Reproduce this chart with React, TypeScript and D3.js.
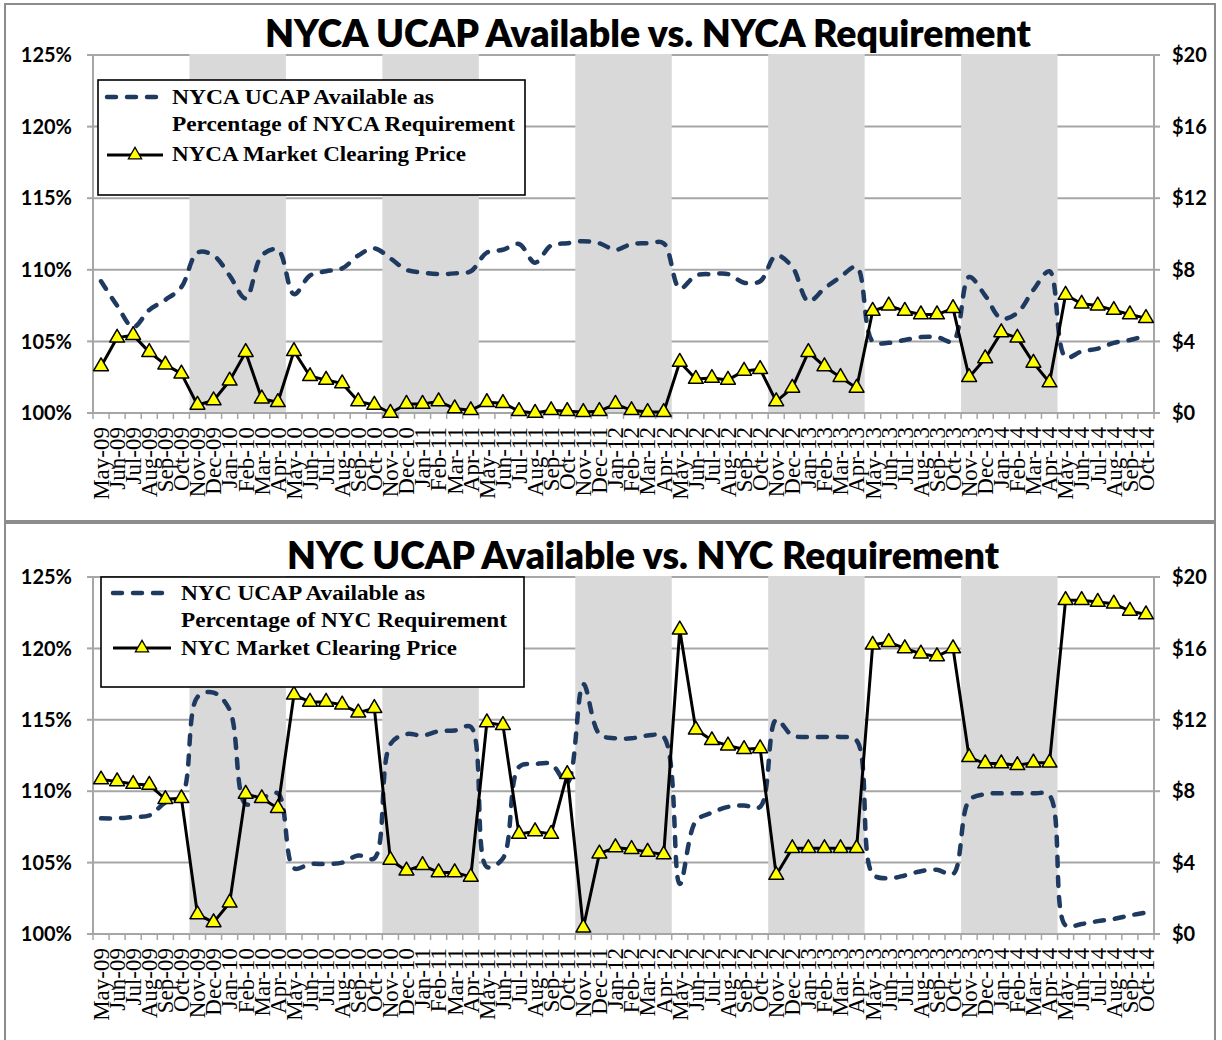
import React from 'react';
import * as d3 from 'd3';

// May-09 .. Oct-14
const months = [
  'May-09', 'Jun-09', 'Jul-09', 'Aug-09', 'Sep-09', 'Oct-09', 'Nov-09', 'Dec-09', 'Jan-10', 'Feb-10', 'Mar-10', 'Apr-10',
  'May-10', 'Jun-10', 'Jul-10', 'Aug-10', 'Sep-10', 'Oct-10', 'Nov-10', 'Dec-10', 'Jan-11', 'Feb-11', 'Mar-11', 'Apr-11',
  'May-11', 'Jun-11', 'Jul-11', 'Aug-11', 'Sep-11', 'Oct-11', 'Nov-11', 'Dec-11', 'Jan-12', 'Feb-12', 'Mar-12', 'Apr-12',
  'May-12', 'Jun-12', 'Jul-12', 'Aug-12', 'Sep-12', 'Oct-12', 'Nov-12', 'Dec-12', 'Jan-13', 'Feb-13', 'Mar-13', 'Apr-13',
  'May-13', 'Jun-13', 'Jul-13', 'Aug-13', 'Sep-13', 'Oct-13', 'Nov-13', 'Dec-13', 'Jan-14', 'Feb-14', 'Mar-14', 'Apr-14',
  'May-14', 'Jun-14', 'Jul-14', 'Aug-14', 'Sep-14', 'Oct-14'
];

const winterMonths = ['Nov', 'Dec', 'Jan', 'Feb', 'Mar', 'Apr'];

const nycaUcap = [
  109.2, 107.5, 106.0, 107.2, 107.9, 108.8, 111.2, 111.0, 109.6, 108.0, 111.0, 111.4,
  108.3, 109.6, 109.9, 110.1, 111.0, 111.5, 110.8, 110.0, 109.8, 109.7, 109.75, 109.9,
  111.2, 111.4, 111.8, 110.5, 111.7, 111.85, 112.0, 111.85, 111.4, 111.8, 111.85, 111.85,
  108.7, 109.6, 109.7, 109.7, 109.1, 109.2, 111.0, 110.2, 107.8, 108.7, 109.5, 110.2,
  105.0, 104.9, 105.1, 105.3, 105.3, 105.0, 109.5, 108.2, 106.6, 107.0, 108.6, 109.9,
  103.9, 104.3, 104.5, 104.9, 105.1, 105.4
];

const nycaPrice = [
  2.6, 4.2, 4.35, 3.4, 2.7, 2.2, 0.45, 0.7, 1.8, 3.4, 0.8, 0.6,
  3.45, 2.05, 1.85, 1.65, 0.65, 0.45, 0.0, 0.5, 0.5, 0.65, 0.25, 0.15,
  0.6, 0.55, 0.1, 0.0, 0.15, 0.1, 0.05, 0.1, 0.5, 0.15, 0.05, 0.05,
  2.85, 1.9, 1.95, 1.85, 2.35, 2.45, 0.65, 1.4, 3.4, 2.6, 2.0, 1.4,
  5.7, 6.0, 5.7, 5.5, 5.5, 5.85, 2.0, 3.05, 4.5, 4.2, 2.8, 1.7,
  6.6, 6.1, 6.0, 5.75, 5.5, 5.3
];

const nycUcap = [
  108.1, 108.1, 108.2, 108.3, 109.2, 109.6, 116.6, 116.9, 115.7, 109.1, 109.5, 109.85,
  104.6, 104.9, 104.9, 105.0, 105.5, 105.3, 113.3, 114.0, 113.9, 114.2, 114.25, 114.5,
  104.7, 105.3, 111.7, 111.9, 111.9, 110.6, 117.5, 114.0, 113.7, 113.7, 113.9, 113.8,
  103.5, 107.9, 108.5, 108.9, 109.0, 108.9, 115.0, 113.9, 113.8, 113.8, 113.8, 113.55,
  104.2, 103.9, 104.1, 104.4, 104.5, 104.2, 109.35, 109.8, 109.85, 109.85, 109.85, 109.7,
  100.6, 100.7, 100.9, 101.05, 101.3, 101.5
];

const nycPrice = [
  8.65, 8.55, 8.4, 8.35, 7.55, 7.6, 1.1, 0.65, 1.75, 7.85, 7.6, 7.05,
  13.4, 13.0, 13.0, 12.85, 12.4, 12.65, 4.15, 3.55, 3.85, 3.45, 3.45, 3.2,
  11.85, 11.7, 5.6, 5.75, 5.6, 8.95, 0.35, 4.5, 4.85, 4.75, 4.6, 4.45,
  17.05, 11.45, 10.85, 10.55, 10.35, 10.4, 3.3, 4.8, 4.8, 4.8, 4.8, 4.8,
  16.2, 16.35, 16.0, 15.7, 15.55, 16.0, 9.9, 9.55, 9.55, 9.45, 9.6, 9.6,
  18.7, 18.7, 18.6, 18.5, 18.1, 17.9
];

const pctTicks = [100, 105, 110, 115, 120, 125];
const priceTicks = [0, 4, 8, 12, 16, 20];

const NAVY = '#1f3a60';
const GRID = '#a6a6a6';
const SHADE = '#d9d9d9';
const TITLE_FONT = 'Lato, "Open Sans", sans-serif';
const SERIF = '"Liberation Serif", "DejaVu Serif", serif';

const isWinter = (m: string) => winterMonths.includes(m.slice(0, 3));

// contiguous Nov..Apr runs -> [firstMonth, lastMonth]
const winterRuns: [string, string][] = [];
months.forEach((m, i) => {
  if (!isWinter(m)) return;
  if (i > 0 && isWinter(months[i - 1])) winterRuns[winterRuns.length - 1][1] = m;
  else winterRuns.push([m, m]);
});

type LegendSpec = {
  box: [number, number, number, number];
  dashY: number;
  dashX: [number, number];
  priceY: number;
  textX: number;
  lines: { text: string; y: number; len: number }[];
};

type PanelProps = {
  title: string;
  titleX: [number, number];
  titleY: number;
  top: number;
  bottom: number;
  ucap: number[];
  price: number[];
  legend: LegendSpec;
};

function Panel(props: PanelProps) {
  const { title, titleX, titleY, top, bottom, ucap, price, legend } = props;

  const x = d3.scaleBand<string>().domain(months).range([93, 1154]).padding(0);
  const yPct = d3.scaleLinear().domain([100, 125]).range([bottom, top]);
  const yPrice = d3.scaleLinear().domain([0, 20]).range([bottom, top]);
  const cx = (m: string) => (x(m) as number) + x.bandwidth() / 2;

  const ucapLine = d3.line<number>()
    .x((_, i) => cx(months[i]))
    .y(d => yPct(d))
    .curve(d3.curveCatmullRom.alpha(0.5));

  const priceLine = d3.line<number>()
    .x((_, i) => cx(months[i]))
    .y(d => yPrice(d));

  const tri = d3.symbol().type(d3.symbolTriangle).size(95)() as string;
  const triSmall = d3.symbol().type(d3.symbolTriangle).size(75)() as string;

  const [bx, by, bw, bh] = legend.box;

  return (
    <g>
      {/* gridlines */}
      {pctTicks.slice(1).map(t => (
        <line key={'g' + t} x1={93} x2={1154} y1={yPct(t)} y2={yPct(t)} stroke={GRID} strokeWidth={2} />
      ))}

      {/* winter shading sits over the gridlines */}
      {winterRuns.map(([a, b]) => (
        <rect key={'s' + a} x={x(a)} y={top - 1} width={(x(b) as number) + x.bandwidth() - (x(a) as number)}
          height={bottom - top + 1} fill={SHADE} />
      ))}

      {/* axes */}
      <line x1={93} x2={93} y1={top - 1} y2={bottom} stroke={GRID} strokeWidth={2} />
      <line x1={1154} x2={1154} y1={top - 1} y2={bottom} stroke={GRID} strokeWidth={2} />
      <line x1={93} x2={1154} y1={bottom} y2={bottom} stroke={GRID} strokeWidth={2} />
      {pctTicks.map(t => (
        <g key={'l' + t}>
          <line x1={87} x2={93} y1={yPct(t)} y2={yPct(t)} stroke={GRID} strokeWidth={2} />
          <text x={72} y={yPct(t)} dy="0.36em" textAnchor="end" fontFamily={TITLE_FONT} fontWeight={700} fontSize={20} fill="#000">{t}%</text>
        </g>
      ))}
      {priceTicks.map(t => (
        <g key={'r' + t}>
          <line x1={1154} x2={1160} y1={yPrice(t)} y2={yPrice(t)} stroke={GRID} strokeWidth={2} />
          <text x={1172} y={yPrice(t)} dy="0.36em" textAnchor="start" fontFamily={TITLE_FONT} fontWeight={700} fontSize={20} fill="#000">${t}</text>
        </g>
      ))}
      {months.concat(['end']).map((m, i) => {
        const xx = 93 + i * x.bandwidth();
        return <line key={'t' + i} x1={xx} x2={xx} y1={bottom} y2={bottom + 6} stroke={GRID} strokeWidth={1.5} />;
      })}
      {months.map(m => (
        <text key={'x' + m} transform={`translate(${cx(m)},${bottom + 14}) rotate(-90)`} dy="0.34em"
          textAnchor="end" fontFamily={SERIF} fontSize={23} fill="#000">{m}</text>
      ))}

      {/* series */}
      <path d={ucapLine(ucap) as string} fill="none" stroke={NAVY} strokeWidth={4.5}
        strokeDasharray="9 11" strokeLinecap="round" />
      <path d={priceLine(price) as string} fill="none" stroke="#000" strokeWidth={3} strokeLinejoin="round" />
      {price.map((v, i) => (
        <path key={'p' + i} d={tri} transform={`translate(${cx(months[i])},${yPrice(v)})`}
          fill="#ffff00" stroke="#000" strokeWidth={1.5} strokeLinejoin="round" />
      ))}

      {/* title */}
      <text x={titleX[0]} y={titleY} textLength={titleX[1] - titleX[0]} lengthAdjust="spacingAndGlyphs"
        fontFamily={TITLE_FONT} fontWeight={800} fontSize={37} fill="#000">{title}</text>

      {/* legend */}
      <rect x={bx} y={by} width={bw} height={bh} fill="#fff" stroke="#000" strokeWidth={1.6} />
      <line x1={legend.dashX[0]} x2={legend.dashX[1]} y1={legend.dashY} y2={legend.dashY}
        stroke={NAVY} strokeWidth={4.5} strokeDasharray="9 11" strokeLinecap="round" />
      <line x1={legend.dashX[0]} x2={legend.dashX[1]} y1={legend.priceY} y2={legend.priceY}
        stroke="#000" strokeWidth={3} />
      <path d={triSmall} transform={`translate(${(legend.dashX[0] + legend.dashX[1]) / 2},${legend.priceY})`}
        fill="#ffff00" stroke="#000" strokeWidth={1.3} />
      {legend.lines.map(l => (
        <text key={l.text} x={legend.textX} y={l.y} textLength={l.len} lengthAdjust="spacingAndGlyphs"
          fontFamily={SERIF} fontWeight={700} fontSize={21} fill="#000">{l.text}</text>
      ))}
    </g>
  );
}

export default function App() {
  return (
    <svg width={1222} height={1040} style={{ position: 'absolute', left: 0, top: 0, background: '#fff' }}>
      <rect x={0} y={0} width={1222} height={1040} fill="#fff" />
      <rect x={5} y={4} width={1210} height={517} fill="#fff" stroke="#8c8c8c" strokeWidth={2} />
      <rect x={5} y={523} width={1210} height={530} fill="#fff" stroke="#8c8c8c" strokeWidth={2} />

      <Panel
        title="NYCA UCAP Available vs. NYCA Requirement"
        titleX={[265, 1031]}
        titleY={47}
        top={55}
        bottom={413}
        ucap={nycaUcap}
        price={nycaPrice}
        legend={{
          box: [98, 80, 427, 115],
          dashY: 97,
          dashX: [107, 163],
          priceY: 155,
          textX: 172,
          lines: [
            { text: 'NYCA  UCAP  Available as', y: 104, len: 262 },
            { text: 'Percentage of  NYCA  Requirement', y: 131, len: 343 },
            { text: 'NYCA  Market  Clearing Price', y: 161, len: 294 }
          ]
        }}
      />

      <Panel
        title="NYC UCAP Available vs. NYC Requirement"
        titleX={[287, 999]}
        titleY={569}
        top={577}
        bottom={934}
        ucap={nycUcap}
        price={nycPrice}
        legend={{
          box: [101, 577, 423, 110],
          dashY: 593,
          dashX: [113, 171],
          priceY: 648,
          textX: 181,
          lines: [
            { text: 'NYC UCAP  Available as', y: 600, len: 244 },
            { text: 'Percentage of  NYC Requirement', y: 627, len: 326 },
            { text: 'NYC Market Clearing Price', y: 655, len: 276 }
          ]
        }}
      />
    </svg>
  );
}
